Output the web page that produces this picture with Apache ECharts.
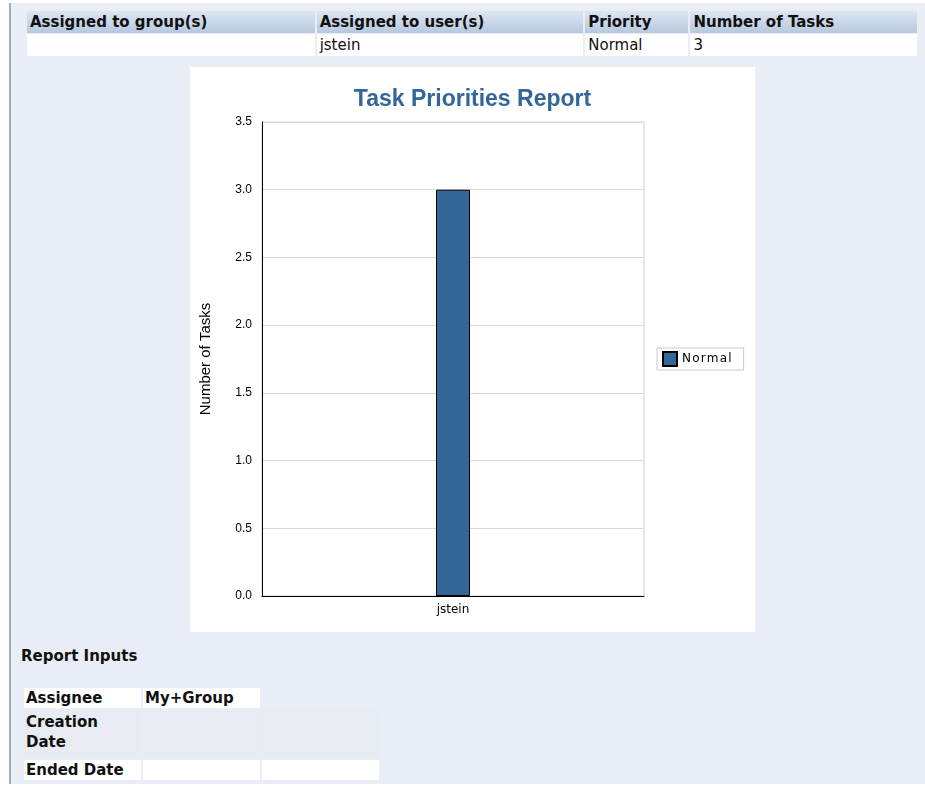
<!DOCTYPE html>
<html>
<head>
<meta charset="utf-8">
<script src="https://cdn.jsdelivr.net/npm/echarts@6/dist/echarts.min.js"></script>
<style>
  body { margin: 0; background: #fff; font-family: "DejaVu Sans", Tahoma, sans-serif; }
  #page {
    position: absolute; left: 9px; top: 3px; width: 916px; height: 781px;
    background: #e9eef6; border-left: 2px solid #a9adb3;
  }
  #summary {
    position: absolute; left: 14px; top: 7px; border-collapse: separate; border-spacing: 2px 1px;
    font-size: 15px; table-layout: fixed; width: 894px;
  }
  #summary th {
    text-align: left; font-weight: bold; height: 22px; padding: 0 3px;
    background: linear-gradient(#dde6f1, #b7c9df); color: #111; overflow: hidden; white-space: nowrap;
  }
  #summary td { background: #fff; height: 22px; padding: 0 3px; color: #111; }
  #chartBox {
    position: absolute; left: 179px; top: 64px; width: 565px; height: 565px; background: #fff;
  }
  #inputsTitle {
    position: absolute; left: 10px; top: 644px; font-weight: bold; font-size: 15px; color: #111;
  }
  #inputs {
    position: absolute; left: 11px; top: 683px; border-collapse: separate; border-spacing: 2px 2px;
    font-size: 15px; font-weight: bold; color: #111;
  }
  #inputs td { width: 113px; padding: 0 2px; vertical-align: top; line-height: 20px; }
  #inputs td.w { background: #fff; }
  #inputs td.g { background: #e8ebf1; }
</style>
</head>
<body>
<div id="page">
  <table id="summary">
    <thead><tr id="hdr"></tr></thead>
    <tbody><tr id="row"></tr></tbody>
  </table>
  <div id="chartBox"></div>
  <div id="inputsTitle">Report Inputs</div>
  <table id="inputs">
    <tr><td class="w">Assignee</td><td class="w">My+Group</td><td></td></tr>
    <tr><td class="g" style="height:46px;line-height:20px;padding-top:2px">Creation Date</td><td class="g"></td><td class="g"></td></tr>
    <tr><td class="w">Ended Date</td><td class="w"></td><td class="w"></td></tr>
  </table>
</div>
<script>
// table data
var headers = ["Assigned to group(s)", "Assigned to user(s)", "Priority", "Number of Tasks"];
var rowData = ["", "jstein", "Normal", "3"];
var colWidths = [281, 260, 97, 220];

// chart data
var users = ["jstein"];
var priorityName = "Normal";
var taskCounts = [3];
var yTicks = [0, 0.5, 1, 1.5, 2, 2.5, 3, 3.5];

var hdr = document.getElementById("hdr");
var row = document.getElementById("row");
headers.forEach(function (h, i) {
  var th = document.createElement("th");
  th.textContent = h;
  th.style.width = colWidths[i] + "px";
  hdr.appendChild(th);
  var td = document.createElement("td");
  td.textContent = rowData[i];
  row.appendChild(td);
});

var chart = echarts.init(document.getElementById("chartBox"));
chart.setOption({
  animation: false,
  title: {
    text: "Task Priorities Report",
    left: "center",
    top: 16,
    textStyle: { color: "#336699", fontSize: 23, fontWeight: "bold", fontFamily: "Liberation Sans, Arial" }
  },
  legend: {
    data: [priorityName],
    icon: "rect",
    left: 467,
    top: 281,
    orient: "vertical",
    borderColor: "#cccccc",
    borderWidth: 1,
    padding: [3, 12, 3, 5],
    itemWidth: 14,
    itemHeight: 14,
    itemGap: 4,
    textStyle: { fontSize: 12, color: "#000", fontFamily: "DejaVu Sans" },
    formatter: function (n) { return n.split("").join("\u200a"); }
  },
  grid: {
    left: 71, right: 111, top: 55, bottom: 36,
    show: true, borderColor: "#d0d0d0", borderWidth: 1
  },
  xAxis: {
    type: "category",
    data: users,
    axisLine: { lineStyle: { color: "#000", width: 1 } },
    axisTick: { show: false },
    axisLabel: { color: "#000", fontSize: 12, margin: 8, fontFamily: "DejaVu Sans" }
  },
  yAxis: {
    type: "value",
    min: yTicks[0],
    max: yTicks[yTicks.length - 1],
    interval: 0.5,
    name: "Number of Tasks",
    nameLocation: "middle",
    nameRotate: 90,
    nameGap: 49,
    nameTextStyle: { color: "#000", fontSize: 15, fontFamily: "Liberation Sans, Arial" },
    axisLine: { show: true, lineStyle: { color: "#000", width: 1 } },
    axisTick: { show: false },
    splitLine: { lineStyle: { color: "#d9d9d9" } },
    axisLabel: {
      color: "#000", fontSize: 12, margin: 10, fontFamily: "Liberation Sans, Arial",
      formatter: function (v) { return v.toFixed(1); }
    }
  },
  series: [{
    name: priorityName,
    type: "bar",
    data: taskCounts,
    barWidth: 34,
    itemStyle: { color: "#336699", borderColor: "#000", borderWidth: 1 }
  }]
});
</script>
</body>
</html>
